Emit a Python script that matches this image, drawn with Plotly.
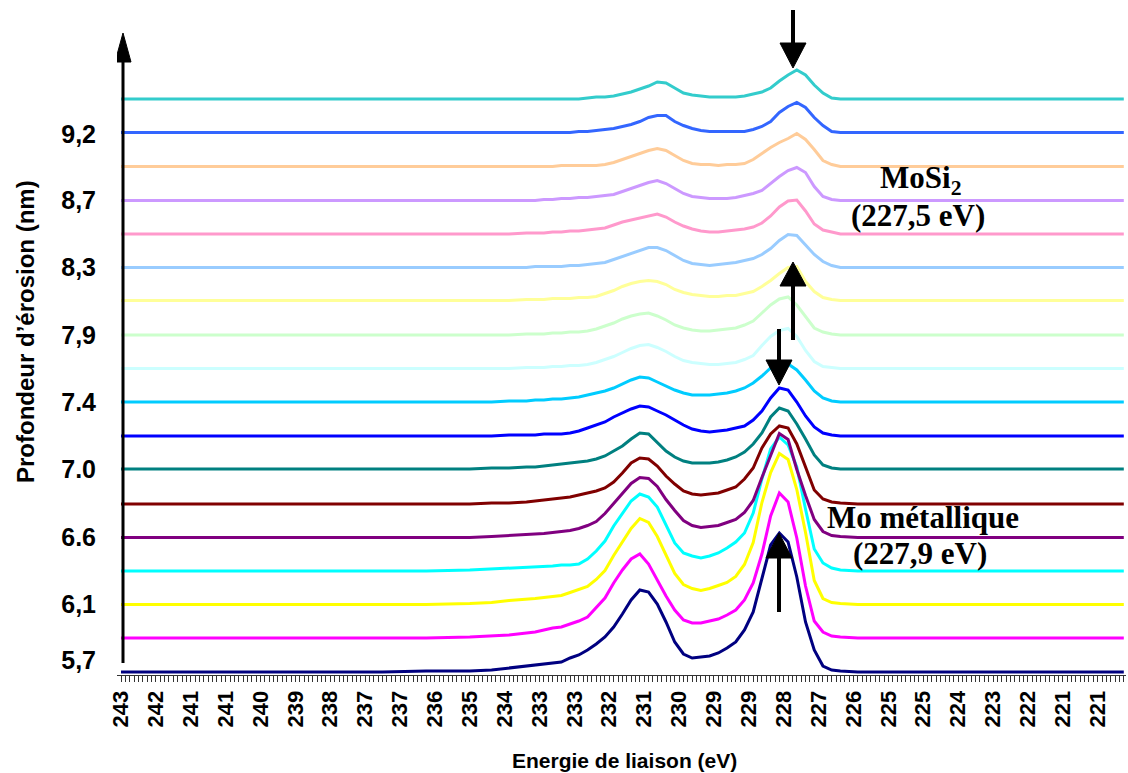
import plotly.graph_objects as go

# ---------------- data ----------------
energy = [243.0, 242.0, 241.0, 240.0, 239.0, 238.0, 237.0, 236.0, 235.0, 234.5, 234.1,
          233.7, 233.5, 233.3, 233.1, 232.9, 232.7, 232.5, 232.3, 232.1, 231.9, 231.7,
          231.5, 231.3, 231.1, 230.9, 230.7, 230.5, 230.3, 230.1, 229.9, 229.7, 229.5,
          229.3, 229.1, 228.9, 228.7, 228.5, 228.3, 228.1, 227.9, 227.7, 227.5, 227.3,
          227.1, 226.9, 226.7, 226.5,
          226.1, 225.5, 225.0, 224.0, 223.0, 222.0, 221.0, 220.0]

FLAT_R = [0, 0, 0, 0, 0, 0, 0, 0]

s01_navy = [0, 0, 0, 0, 0, 0, 0, 1, 1, 2, 4,
            6, 7, 8, 9, 10, 14, 17, 22, 28, 35, 45, 58, 72, 82, 80, 68, 50, 30, 18, 14,
            15, 16, 19, 24, 30, 42, 60, 95, 127, 139, 130, 95, 50, 22, 6, 2, 1] + FLAT_R
s02_magenta = [0, 0, 0, 0, 0, 0, 0, 0, 1, 2, 3,
               5, 6, 8, 10, 11, 14, 17, 21, 30, 40, 55, 68, 79, 84, 74, 58, 42, 28, 18, 15,
               15, 17, 19, 23, 28, 38, 55, 84, 122, 145, 136, 100, 52, 17, 6, 2, 1] + FLAT_R
s03_yellow = [0, 0, 0, 0, 0, 0, 0, 0, 1, 2, 4,
              5, 6, 7, 8, 9, 12, 15, 18, 25, 34, 49, 62, 76, 86, 82, 68, 50, 31, 20, 16,
              14, 16, 19, 22, 28, 40, 62, 102, 132, 151, 145, 115, 72, 24, 6, 2, 1] + FLAT_R
s04_cyan = [0, 0, 0, 0, 0, 0, 0, 0, 1, 2, 3,
            4, 4, 5, 5, 6, 6, 7, 12, 20, 30, 45, 58, 70, 77, 74, 64, 46, 28, 18, 15,
            13, 15, 18, 23, 29, 38, 58, 92, 122, 134, 126, 104, 62, 22, 8, 3, 1] + FLAT_R
s05_purple = [0, 0, 0, 0, 0, 0, 0, 0, 0, 1, 2,
              3, 3, 4, 5, 6, 7, 9, 12, 16, 24, 34, 44, 54, 60, 59, 51, 38, 27, 17, 12,
              10, 11, 12, 15, 18, 25, 37, 60, 82, 104, 98, 68, 42, 18, 6, 2, 1] + FLAT_R
s06_darkred = [0, 0, 0, 0, 0, 0, 0, 0, 0, 1, 1,
               2, 3, 4, 5, 6, 7, 9, 11, 13, 16, 22, 31, 41, 46, 45, 38, 28, 20, 13, 10,
               9, 10, 11, 14, 17, 25, 36, 56, 70, 78, 76, 60, 36, 14, 5, 2, 1] + FLAT_R
s07_teal = [0, 0, 0, 0, 0, 0, 0, 0, 0, 1, 1,
            2, 2, 3, 4, 5, 6, 7, 8, 10, 13, 18, 23, 30, 36, 35, 26, 18, 12, 8, 6,
            6, 6, 7, 9, 12, 17, 25, 36, 52, 61, 58, 45, 30, 14, 4, 1, 0] + FLAT_R
s08_blue = [0, 0, 0, 0, 0, 0, 0, 0, 0, 0, 1,
            1, 1, 2, 2, 2, 3, 5, 8, 11, 14, 19, 23, 27, 30, 29, 25, 21, 16, 11, 7,
            5, 4, 5, 6, 8, 10, 16, 25, 38, 48, 46, 34, 20, 9, 3, 1, 0] + FLAT_R
s09_skyblue = [0, 0, 0, 0, 0, 0, 0, 0, 0, 0, 1,
               1, 2, 2, 3, 3, 4, 5, 7, 9, 11, 14, 18, 22, 25, 24, 20, 16, 12, 9, 7,
               7, 7, 8, 9, 11, 14, 19, 26, 34, 40, 38, 32, 22, 11, 4, 1, 0] + FLAT_R
s10_paleturq = [0, 0, 0, 0, 0, 0, 0, 0, 0, 0, 0,
                1, 1, 1, 2, 2, 3, 3, 4, 6, 9, 12, 16, 20, 23, 24, 21, 17, 12, 8, 6,
                5, 4, 4, 5, 6, 9, 13, 23, 32, 38, 40, 32, 18, 7, 2, 1, 0] + FLAT_R
s11_lightgreen = [0, 0, 0, 0, 0, 0, 0, 0, 0, 0, 0,
                  1, 1, 1, 2, 2, 3, 3, 4, 6, 9, 12, 16, 19, 21, 22, 19, 15, 10, 7, 5,
                  4, 4, 5, 6, 7, 10, 14, 22, 30, 36, 38, 30, 18, 7, 3, 1, 0] + FLAT_R
s12_lightyellow = [0, 0, 0, 0, 0, 0, 0, 0, 0, 0, 0,
                   1, 1, 1, 2, 2, 2, 3, 3, 4, 7, 10, 14, 17, 19, 20, 19, 16, 11, 8, 6,
                   5, 4, 4, 5, 5, 7, 9, 14, 20, 27, 33, 34, 19, 9, 3, 1, 0] + FLAT_R
s13_paleblue = [0, 0, 0, 0, 0, 0, 0, 0, 0, 0, 0,
                0, 1, 1, 1, 1, 2, 2, 3, 4, 5, 8, 11, 14, 17, 20, 20, 17, 12, 7, 4,
                3, 2, 3, 4, 5, 7, 9, 13, 19, 27, 33, 32, 23, 13, 6, 2, 0] + FLAT_R
s14_rose = [0, 0, 0, 0, 0, 0, 0, 0, 0, 0, 0,
            1, 1, 1, 2, 2, 3, 3, 4, 5, 6, 9, 12, 14, 16, 18, 20, 17, 12, 8, 5,
            3, 2, 2, 3, 4, 5, 7, 11, 18, 27, 33, 34, 23, 10, 4, 2, 0] + FLAT_R
s15_lavender = [0, 0, 0, 0, 0, 0, 0, 0, 0, 0, 0,
                0, 0, 1, 1, 2, 2, 3, 3, 4, 5, 6, 9, 12, 15, 18, 20, 17, 12, 7, 4,
                3, 2, 2, 2, 3, 5, 7, 10, 17, 24, 30, 33, 28, 14, 4, 1, 0] + FLAT_R
s16_tan = [0, 0, 0, 0, 0, 0, 0, 0, 0, 0, 0,
           0, 0, 0, 0, 1, 1, 1, 1, 1, 2, 4, 7, 10, 13, 16, 18, 16, 11, 6, 3,
           2, 2, 1, 2, 2, 3, 7, 13, 19, 24, 28, 33, 27, 17, 6, 2, 0] + FLAT_R
s17_royal = [0, 0, 0, 0, 0, 0, 0, 0, 0, 0, 0,
             0, 0, 0, 0, 0, 0, 1, 1, 2, 3, 4, 6, 8, 11, 15, 17, 17, 11, 7, 4,
             2, 1, 1, 1, 1, 1, 3, 6, 11, 20, 26, 30, 25, 15, 7, 1, 0] + FLAT_R
s18_aqua = [0, 0, 0, 0, 0, 0, 0, 0, 0, 0, 0,
            0, 0, 0, 0, 0, 0, 0, 1, 2, 2, 3, 5, 7, 10, 13, 17, 16, 11, 6, 4,
            3, 2, 2, 2, 2, 3, 5, 7, 11, 18, 24, 29, 24, 14, 6, 1, 0] + FLAT_R

spectra = [s01_navy, s02_magenta, s03_yellow, s04_cyan, s05_purple, s06_darkred,
           s07_teal, s08_blue, s09_skyblue, s10_paleturq, s11_lightgreen,
           s12_lightyellow, s13_paleblue, s14_rose, s15_lavender, s16_tan,
           s17_royal, s18_aqua]

# vertical stacking offsets of each spectrum
offsets = [3, 37, 70.5, 104, 137.5, 171, 206, 239, 273, 306.5, 340, 374.5,
           407.5, 441, 474.5, 508.5, 542.5, 576]

colors = ["#000080", "#FF00FF", "#FFFF00", "#00FFFF", "#800080", "#800000",
          "#008080", "#0000FF", "#00CCFF", "#CCFFFF", "#CCFFCC", "#FFFF99",
          "#99CCFF", "#FF99CC", "#CC99FF", "#FFCC99", "#3366FF", "#33CCCC"]

x_tick_labels = ["243", "242", "241", "241", "240", "239", "238", "237", "237", "236",
                 "235", "234", "233", "233", "232", "231", "230", "229", "229", "228",
                 "227", "226", "225", "225", "224", "223", "222", "221", "221"]
depth_labels = ["5,7", "6,1", "6.6", "7.0", "7.4", "7,9", "8,3", "8,7", "9,2"]
depth_label_pos = [15, 71, 138, 206, 273, 340, 408, 475, 541]

# ---------------- figure ----------------
fig = go.Figure()
for spec, off, col in zip(spectra, offsets, colors):
    fig.add_trace(go.Scatter(x=energy, y=[off + v for v in spec], mode="lines",
                             line=dict(color=col, width=3), hoverinfo="skip",
                             showlegend=False))

# geometry helpers (pixel -> data) for decorations
PX_PER_EV = 43.6
PLOT_L, PLOT_W, PLOT_B, PLOT_H = 117, 1009, 675, 670
def ex(px):
    return 243 - (px - 121) / PX_PER_EV
def ey(py):
    return PLOT_B - py
def px_paper(px):
    return (px - PLOT_L) / PLOT_W
def py_paper(py):
    return (PLOT_B - py) / PLOT_H

shapes = []
def arrow(xpx, y_tail, y_base, y_tip, half, width=4):
    shapes.append(dict(type="line", xref="x", yref="y", x0=ex(xpx), x1=ex(xpx),
                       y0=ey(y_tail), y1=ey(y_base), line=dict(color="black", width=width)))
    path = "M {},{} L {},{} L {},{} Z".format(ex(xpx - half), ey(y_base),
                                              ex(xpx + half), ey(y_base),
                                              ex(xpx), ey(y_tip))
    shapes.append(dict(type="path", xref="x", yref="y", path=path,
                       fillcolor="black", line=dict(color="black", width=1)))

arrow(793, 10, 43, 68, 13)
arrow(793, 340, 286, 262, 13)
arrow(779, 329, 360, 385, 13)
arrow(779, 612, 558, 533, 13)
arrow(123, 663, 62, 33, 8, width=3)

# labelled ticks every 0.8 eV, unlabelled minor ticks every 0.1 eV
major_vals = [round(243 - 0.8 * k, 1) for k in range(len(x_tick_labels))]
minor_vals = [round(243 - 0.1 * i, 1) for i in range(231)]

serif = "Liberation Serif, Times New Roman, serif"
sans = "Liberation Sans, Arial, sans-serif"
annotations = [
    dict(text="<b>MoSi<sub>2</sub></b>", x=ex(920), y=ey(180), xref="x", yref="y",
         showarrow=False, font=dict(family=serif, size=31, color="black")),
    dict(text="<b>(227,5 eV)</b>", x=ex(918), y=ey(215), xref="x", yref="y",
         showarrow=False, font=dict(family=serif, size=31, color="black")),
    dict(text="<b>Mo métallique</b>", x=ex(923), y=ey(517), xref="x", yref="y",
         showarrow=False, font=dict(family=serif, size=31, color="black")),
    dict(text="<b>(227,9 eV)</b>", x=ex(920), y=ey(553), xref="x", yref="y",
         showarrow=False, font=dict(family=serif, size=31, color="black")),
    dict(text="<b>Energie de liaison (eV)</b>", x=px_paper(624), y=py_paper(760),
         xref="paper", yref="paper", xanchor="center", yanchor="middle",
         showarrow=False, font=dict(family=sans, size=21, color="black")),
    dict(text="<b>Profondeur d’érosion (nm)</b>", x=px_paper(25), y=py_paper(332),
         xref="paper", yref="paper", xanchor="center", yanchor="middle",
         textangle=-90, showarrow=False,
         font=dict(family=sans, size=24, color="black")),
]

fig.update_layout(
    width=1128, height=773,
    margin=dict(l=PLOT_L, r=2, t=5, b=98, autoexpand=False),
    paper_bgcolor="white", plot_bgcolor="white",
    showlegend=False,
    shapes=shapes,
    annotations=annotations,
    xaxis=dict(range=[243 + 4 / PX_PER_EV, 243 - 1005 / PX_PER_EV],
               tickmode="array", tickvals=major_vals, ticktext=x_tick_labels,
               ticks="outside", ticklen=6, tickwidth=1, tickcolor="#333",
               minor=dict(tickmode="array", tickvals=minor_vals, ticks="outside",
                          ticklen=6, tickwidth=1, tickcolor="#333", showgrid=False),
               showline=True, linecolor="#333", linewidth=1,
               showgrid=False, zeroline=False, tickangle=-90, automargin=False,
               tickfont=dict(family=sans, size=22, color="black", weight="bold")),
    yaxis=dict(range=[0, 670], tickmode="array", tickvals=depth_label_pos,
               ticktext=depth_labels, ticks="outside", ticklen=15,
               tickcolor="rgba(0,0,0,0)", showline=False, showgrid=False,
               zeroline=False, automargin=False,
               tickfont=dict(family=sans, size=25, color="black", weight="bold")),
)

fig.write_html("out.html", config={"displayModeBar": False},
               post_script="document.body.style.margin='0';")
